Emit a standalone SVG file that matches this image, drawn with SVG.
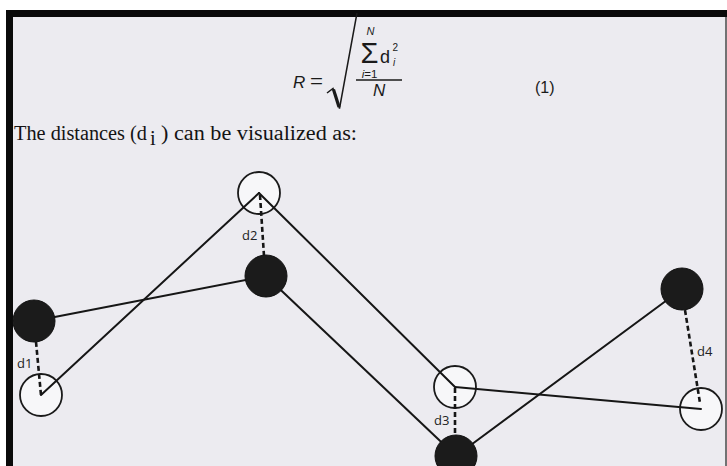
<svg xmlns="http://www.w3.org/2000/svg" width="727" height="466" viewBox="0 0 727 466">
  <style>
    .conn { stroke: #161616; stroke-width: 2; fill: none; stroke-linecap: round; }
    .dist { stroke: #161616; stroke-width: 2.6; fill: none; stroke-dasharray: 5 3; }
    .wnode { fill: #f7f7f9; stroke: #1a1a1a; stroke-width: 1.8; }
    .bnode { fill: #1b1b1b; stroke: #111; stroke-width: 1; }
    .lbl { font-family: "Open Sans", "Liberation Sans", sans-serif; font-size: 13px; fill: #222; }
    .math { font-family: "Liberation Sans", Arial, sans-serif; fill: #1a1a1a; }
    .it { font-style: italic; }
    .body { font-family: "Liberation Serif", "Times New Roman", serif; fill: #141414; font-size: 20.5px; }
  </style>

  <!-- page -->
  <rect x="0" y="0" width="727" height="466" fill="#ffffff"/>
  <rect x="6" y="10" width="721" height="456" fill="#ecebf0"/>
  <rect x="6" y="10" width="721" height="7" fill="#0a0a0a"/>
  <rect x="6" y="10" width="7" height="456" fill="#0a0a0a"/>
  <line x1="726" y1="17" x2="726" y2="466" stroke="#4a4a4a" stroke-width="1.5"/>

  <!-- formula -->
  <g id="formula">
    <text class="math it" x="293" y="88" font-size="17">R</text>
    <text class="math" x="310" y="87" font-size="18" textLength="13" lengthAdjust="spacingAndGlyphs">=</text>
    <path d="M327,93 L333,88.5 L339.5,108.5 L357,13" stroke="#1a1a1a" stroke-width="1.5" fill="none" stroke-linejoin="miter"/>
    <line x1="333.5" y1="89.5" x2="339" y2="107" stroke="#1a1a1a" stroke-width="3.2"/>
    <text class="math it" x="370.5" y="35" font-size="11" text-anchor="middle">N</text>
    <text class="math" x="369.5" y="63" font-size="29" text-anchor="middle">Σ</text>
    <text class="math" x="380" y="63" font-size="18">d</text>
    <text class="math" x="392.5" y="51" font-size="10">2</text>
    <text class="math it" x="393" y="66" font-size="10">i</text>
    <text class="math" x="369.5" y="78" font-size="11.5" text-anchor="middle"><tspan class="it">i</tspan>=1</text>
    <line x1="356" y1="80" x2="402" y2="80" stroke="#1a1a1a" stroke-width="1.5"/>
    <text class="math it" x="373" y="96" font-size="17">N</text>
    <text class="math" x="535" y="93" font-size="16">(1)</text>
  </g>

  <!-- sentence -->
  <text class="body" x="14" y="140" textLength="133" lengthAdjust="spacingAndGlyphs">The distances (d</text>
  <text class="body" x="150" y="145" font-size="13.5">i</text>
  <text class="body" x="161" y="140" textLength="196" lengthAdjust="spacingAndGlyphs">) can be visualized as:</text>

  <!-- white nodes (drawn under connectors) -->
  <g id="w0"><circle class="wnode" cx="41" cy="395" r="21"/></g>
  <g id="w1"><circle class="wnode" cx="259" cy="193" r="21"/></g>
  <g id="w2"><circle class="wnode" cx="455" cy="387" r="21"/></g>
  <g id="w3"><circle class="wnode" cx="701" cy="409" r="21"/></g>

  <!-- connectors -->
  <g id="connectors">
    <line class="conn" x1="41" y1="395" x2="259" y2="193"/>
    <line class="conn" x1="259" y1="193" x2="455" y2="387"/>
    <line class="conn" x1="455" y1="387" x2="701" y2="409"/>
    <line class="conn" x1="34" y1="321" x2="266" y2="276"/>
    <line class="conn" x1="266" y1="276" x2="456" y2="456"/>
    <line class="conn" x1="456" y1="456" x2="682" y2="289"/>
    <line class="dist" x1="36" y1="342" x2="41" y2="395"/>
    <line class="dist" x1="260" y1="195" x2="264" y2="256"/>
    <line class="dist" x1="455" y1="388" x2="455" y2="436"/>
    <line class="dist" x1="685" y1="310" x2="700" y2="403"/>
  </g>

  <!-- black nodes -->
  <g id="b1"><circle class="bnode" cx="34" cy="321" r="21"/></g>
  <g id="b2"><circle class="bnode" cx="266" cy="276" r="21"/></g>
  <g id="b3"><circle class="bnode" cx="456" cy="456" r="21"/></g>
  <g id="b4"><circle class="bnode" cx="682" cy="289" r="21"/></g>

  <!-- distance labels -->
  <g id="labels">
    <text class="lbl" x="17" y="368">d1</text>
    <text class="lbl" x="242" y="240">d2</text>
    <text class="lbl" x="434" y="425">d3</text>
    <text class="lbl" x="697" y="356">d4</text>
  </g>
</svg>
